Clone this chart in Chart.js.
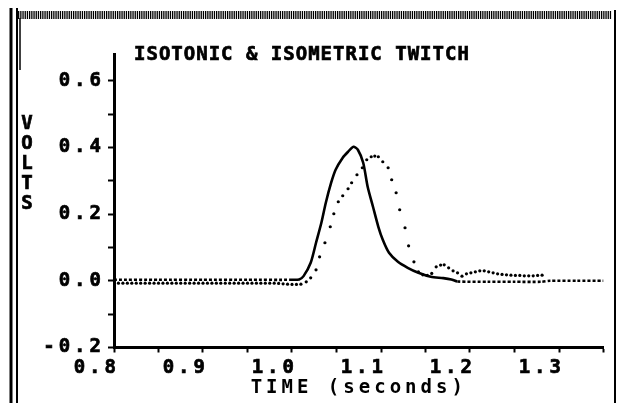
<!DOCTYPE html>
<html><head><meta charset="utf-8">
<script src="https://cdn.jsdelivr.net/npm/chart.js@4"></script>
<style>html,body{margin:0;padding:0;background:#fff;overflow:hidden}</style>
</head><body>
<canvas id="c" width="618" height="403" style="display:block;width:618px;height:403px"></canvas>
<script>
const chartTitle = 'ISOTONIC & ISOMETRIC TWITCH';
const xAxisTitle = 'TIME (seconds)';
const yAxisTitle = 'VOLTS';
const xTickLabels = ['0.8','0.9','1.0','1.1','1.2','1.3'];
const yTickLabels = ['-0.2','0.0','0.2','0.4','0.6'];

// Isotonic twitch (solid line)
const isotonicTime = [0.800,0.850,0.900,0.950,1.000,1.008,1.013,1.021,1.027,1.033,1.038,1.044,1.049,1.057,1.063,1.069,1.074,1.080,1.085,1.091,1.097,1.102,1.109,1.119,1.130,1.142,1.156,1.170,1.179,1.186,1.220,1.250,1.280,1.290,1.320,1.350];
const isotonicVolts = [0.003,0.003,0.003,0.003,0.003,0.004,0.014,0.054,0.114,0.174,0.234,0.294,0.333,0.369,0.387,0.402,0.393,0.354,0.282,0.222,0.162,0.123,0.084,0.057,0.039,0.024,0.012,0.008,0.004,-0.002,-0.003,-0.003,-0.003,0.000,0.000,0.000];

// Isometric twitch (dotted samples)
const isometricTime = [0.800,0.805,0.810,0.815,0.820,0.825,0.830,0.835,0.840,0.845,0.850,0.855,0.860,0.865,0.870,0.875,0.880,0.885,0.890,0.895,0.900,0.905,0.910,0.915,0.920,0.925,0.930,0.935,0.940,0.945,0.950,0.955,0.960,0.965,0.970,0.975,0.980,0.985,0.990,0.995,1.000,1.005,
  1.010,1.016,1.021,1.027,1.031,1.037,1.043,1.047,1.052,1.057,1.063,1.067,1.073,1.079,1.084,1.089,1.093,1.097,1.102,1.108,1.112,1.117,1.121,1.127,1.131,1.137,1.142,1.147,1.152,1.157,1.162,1.167,1.171,1.176,1.181,1.186,1.191,1.196,1.201,1.206,1.211,1.216,1.221,1.226,1.231,1.236,1.241,1.246,1.251,1.256,1.261,1.266,1.271,1.276,1.281];
const isometricVolts = [-0.007,-0.007,-0.007,-0.007,-0.007,-0.007,-0.007,-0.007,-0.007,-0.007,-0.007,-0.007,-0.007,-0.007,-0.007,-0.007,-0.007,-0.007,-0.007,-0.007,-0.007,-0.007,-0.007,-0.007,-0.007,-0.007,-0.007,-0.007,-0.007,-0.007,-0.007,-0.007,-0.007,-0.007,-0.007,-0.007,-0.007,-0.008,-0.009,-0.010,-0.011,-0.011,
  -0.010,-0.003,0.009,0.033,0.072,0.114,0.162,0.201,0.237,0.255,0.276,0.294,0.318,0.339,0.363,0.372,0.374,0.372,0.357,0.339,0.303,0.264,0.213,0.159,0.105,0.057,0.027,0.018,0.016,0.022,0.042,0.047,0.048,0.039,0.030,0.024,0.014,0.021,0.024,0.027,0.030,0.030,0.027,0.024,0.021,0.019,0.018,0.017,0.016,0.016,0.015,0.015,0.015,0.016,0.017];

const FONT = '"DejaVu Sans Mono", monospace';
const FSIZE = 19;

const decor = {
  id: 'decor',
  beforeDraw(chart) { chart.ctx.letterSpacing = '4px'; },
  afterDraw(chart) {
    const ctx = chart.ctx;
    const line = (x1,y1,x2,y2) => { ctx.beginPath(); ctx.moveTo(x1,y1); ctx.lineTo(x2,y2); ctx.stroke(); };
    ctx.save();
    ctx.strokeStyle = '#000';
    ctx.lineWidth = 8; ctx.setLineDash([1.3,0.9]);
    line(18,15,612,15);
    ctx.setLineDash([]);
    ctx.lineWidth = 3; line(11,8,11,403);
    ctx.lineWidth = 2; line(17,8,17,403);
    ctx.lineWidth = 1.5; line(20,18,20,70);
    ctx.lineWidth = 2; line(615,10,615,403);
    ctx.fillStyle = '#000';
    ctx.font = 'bold ' + FSIZE + 'px ' + FONT;
    ctx.textBaseline = 'middle';
    ctx.lineWidth = 0.7;
    ctx.letterSpacing = '1px'; ctx.textAlign = 'left';
    ctx.fillText(chartTitle, 134, 55); ctx.strokeText(chartTitle, 134, 55);
    ctx.letterSpacing = '0px'; ctx.textAlign = 'center';
    yAxisTitle.split('').forEach((ch,i) => { ctx.fillText(ch, 27, 124 + i*20); ctx.strokeText(ch, 27, 124 + i*20); });
    ctx.restore();
  }
};

const pick = (labels) => (v) => {
  const s = (Math.abs(v) < 1e-9 ? 0 : v).toFixed(1);
  const k = Math.round(v*100);
  return (k % 10 === 0 && labels.includes(s)) ? s : '';
};

const tickFont = { family: FONT, size: FSIZE, weight: 'bold' };

new Chart(document.getElementById('c'), {
  type: 'line',
  data: {
    datasets: [
      {
        label: 'Isotonic',
        data: isotonicTime.map((t,i) => ({x:t, y:isotonicVolts[i]})),
        borderColor: '#000', borderWidth: 2.6, pointRadius: 0, tension: 0.25,
        segment: { borderDash: c => (c.p1.parsed.x <= 1.0 || c.p0.parsed.x >= 1.186) ? [3,2] : undefined }
      },
      {
        label: 'Isometric',
        data: isometricTime.map((t,i) => ({x:t, y:isometricVolts[i]})),
        showLine: false, pointRadius: 1.6, pointBackgroundColor: '#000', pointBorderWidth: 0, borderColor: '#000'
      }
    ]
  },
  options: {
    responsive: false, animation: false, devicePixelRatio: 1,
    layout: { padding: { left: 0, right: 14.5, top: 54, bottom: 0 } },
    plugins: { legend: { display: false }, tooltip: { enabled: false } },
    scales: {
      x: {
        type: 'linear', min: 0.8, max: 1.35,
        afterFit: s => { s.height = 55.5; },
        border: { display: true, color: '#000', width: 3 },
        grid: { drawOnChartArea: false, drawTicks: true, tickLength: 5, tickColor: '#000', tickWidth: 2 },
        ticks: { stepSize: 0.05, autoSkip: false, maxRotation: 0, includeBounds: false, align: 'end', labelOffset: 6, padding: 4,
                 color: '#000', textStrokeColor: '#000', textStrokeWidth: 0.7, font: tickFont, callback: pick(xTickLabels) },
        title: { display: true, text: xAxisTitle, color: '#000', font: tickFont, padding: { top: 0, bottom: 4 } }
      },
      y: {
        type: 'linear', min: -0.2, max: 0.68,
        afterFit: s => { s.width = 114; },
        border: { display: true, color: '#000', width: 3 },
        grid: { drawOnChartArea: false, drawTicks: true, tickLength: 6, tickColor: '#000', tickWidth: 2 },
        ticks: { stepSize: 0.1, autoSkip: false, includeBounds: false, padding: 3,
                 color: '#000', textStrokeColor: '#000', textStrokeWidth: 0.7, font: tickFont, callback: pick(yTickLabels) }
      }
    }
  },
  plugins: [decor]
});
</script>
</body></html>
